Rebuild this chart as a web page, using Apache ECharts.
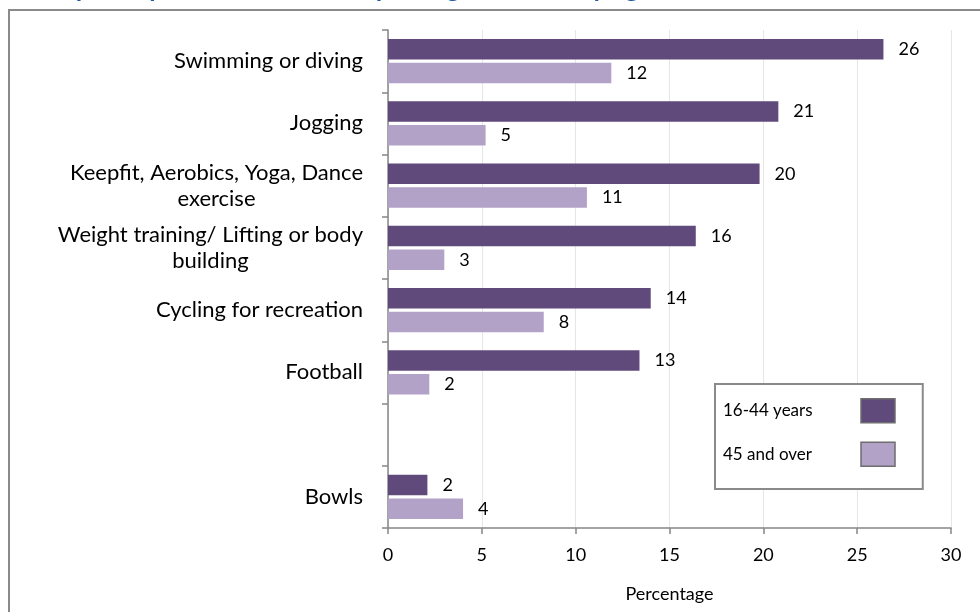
<!DOCTYPE html>
<html>
<head>
<meta charset="utf-8">
<script src="https://cdn.jsdelivr.net/npm/echarts@6/dist/echarts.min.js"></script>
<style>
html,body{margin:0;padding:0;background:#fff;}
#chart{width:980px;height:612px;}
</style>
</head>
<body>
<div id="chart"></div>
<script>
var categories = ['Swimming or diving', 'Jogging', 'Keepfit, Aerobics, Yoga, Dance\nexercise', 'Weight training/ Lifting or body\nbuilding', 'Cycling for recreation', 'Football', '', 'Bowls'];
var seriesNames = ['16-44 years', '45 and over'];
var younger = [26.4, 20.8, 19.8, 16.4, 14.0, 13.4, null, 2.1];
var older = [11.9, 5.2, 10.6, 3.0, 8.3, 2.2, null, 4.0];
var xTicks = {min: 0, max: 30, interval: 5};
var titleText = 'Adult participation in the main sporting activities by age';

var FONT = 'Lato';
var chart = echarts.init(document.getElementById('chart'), null, {renderer: 'canvas'});

function labelFmt(p) { return p.value == null ? '' : String(Math.round(p.value)); }

var option = {
  animation: false,
  backgroundColor: '#ffffff',
  textStyle: {fontFamily: FONT},
  graphic: [
    {type: 'rect', shape: {x: 9, y: 10, width: 1000, height: 700}, style: {fill: 'none', stroke: '#8a8a8a', lineWidth: 2}, z: 0},
    {type: 'text', x: 6, y: -24, style: {text: titleText, fill: '#1f5c9e', font: 'bold 26px ' + FONT}, z: 10}
  ],
  grid: {left: 388, right: 29, top: 30, bottom: 84, containLabel: false},
  legend: {
    orient: 'vertical',
    left: 715, top: 384,
    align: 'right',
    itemWidth: 34, itemHeight: 24, itemGap: 18,
    padding: [14, 27, 22, 8],
    borderColor: '#8a8a8a', borderWidth: 2,
    backgroundColor: '#ffffff',
    icon: 'rect',
    itemStyle: {borderColor: '#6e6e6e', borderWidth: 1.5},
    data: seriesNames,
    formatter: function (n) { return '{a|' + n + '}'; },
    textStyle: {color: '#000', fontSize: 17, fontFamily: FONT,
      rich: {a: {width: 133, align: 'left', fontSize: 17, fontFamily: FONT, color: '#000'}}}
  },
  xAxis: {
    type: 'value', min: xTicks.min, max: xTicks.max, interval: xTicks.interval,
    name: 'Percentage', nameLocation: 'middle', nameGap: 57,
    nameTextStyle: {color: '#000', fontSize: 18, fontFamily: FONT},
    axisLine: {show: true, lineStyle: {color: '#868686', width: 1.5}},
    axisTick: {show: true, length: 6, lineStyle: {color: '#868686', width: 1.5}},
    axisLabel: {color: '#000', fontSize: 18, margin: 18, fontFamily: FONT},
    splitLine: {show: true, lineStyle: {color: '#e6e6e6', width: 1}}
  },
  yAxis: {
    type: 'category', inverse: true, data: categories,
    axisLine: {show: true, lineStyle: {color: '#868686', width: 1.5}},
    axisTick: {show: true, length: 6, lineStyle: {color: '#868686', width: 1.5}},
    axisLabel: {
      margin: 25, color: '#000', fontSize: 22, fontFamily: FONT, lineHeight: 26,
      formatter: function (v) {
        if (!v) return '';
        return v.split('\n').map(function (l) { return '{c|' + l + '}'; }).join('\n');
      },
      rich: {c: {align: 'center', fontSize: 22, lineHeight: 26, fontFamily: FONT, color: '#000'}}
    },
    splitLine: {show: false}
  },
  series: [
    {name: seriesNames[0], type: 'bar', data: younger, barCategoryGap: '29%', barGap: '16%',
      itemStyle: {color: '#604a7b'},
      label: {show: true, position: 'right', distance: 15, color: '#000', fontSize: 18, fontFamily: FONT, formatter: labelFmt}},
    {name: seriesNames[1], type: 'bar', data: older, barCategoryGap: '29%', barGap: '16%',
      itemStyle: {color: '#b3a2c7'},
      label: {show: true, position: 'right', distance: 15, color: '#000', fontSize: 18, fontFamily: FONT, formatter: labelFmt}}
  ]
};
chart.setOption(option);
</script>
</body>
</html>
